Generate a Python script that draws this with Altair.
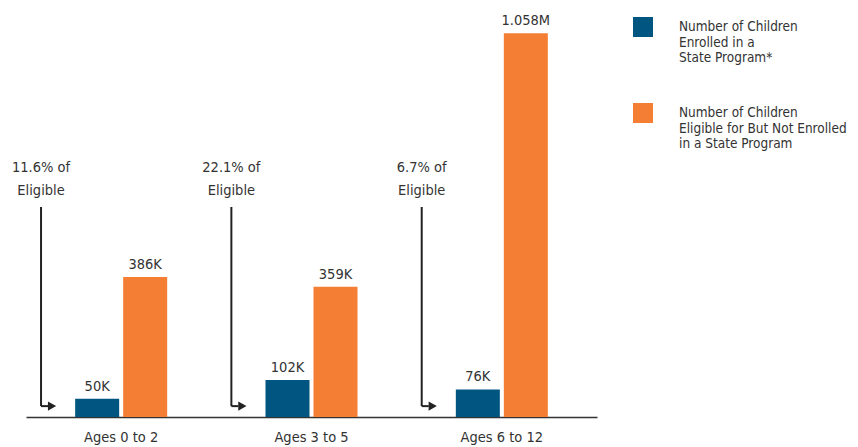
import altair as alt
import pandas as pd

ages = ["Ages 0 to 2", "Ages 3 to 5", "Ages 6 to 12"]
series = [
    "Number of Children Enrolled in a State Program*",
    "Number of Children Eligible for But Not Enrolled in a State Program",
]
legend_lines = [
    ["Number of Children", "Enrolled in a", "State Program*"],
    ["Number of Children", "Eligible for But Not Enrolled", "in a State Program"],
]
enrolled_k = [50, 102, 76]
not_enrolled_k = [386, 359, 1058]
enrolled_labels = ["50K", "102K", "76K"]
not_enrolled_labels = ["386K", "359K", "1.058M"]
share_of_eligible = ["11.6%", "22.1%", "6.7%"]
colors = ["#005581", "#F47F34"]

rows = []
for i, a in enumerate(ages):
    rows.append({"age": a, "series": series[0], "value": enrolled_k[i], "label": enrolled_labels[i]})
    rows.append({"age": a, "series": series[1], "value": not_enrolled_k[i], "label": not_enrolled_labels[i]})
df = pd.DataFrame(rows)
notes = pd.DataFrame({"age": ages, "note": [f"{p} of\nEligible" for p in share_of_eligible]})

FONT = "DejaVu Sans Condensed, sans-serif"
FS = 14.5
TXT = "#333333"
LINE = "#222222"
BP = 0.079


def make_x(**kw):
    return alt.X(
        "age:N",
        sort=ages,
        scale=alt.Scale(paddingInner=0, paddingOuter=0),
        axis=alt.Axis(
            title=None, domainColor="#333333", domainWidth=1.5, ticks=False,
            labelFontSize=FS, labelPadding=13, labelColor=TXT, labelFont=FONT,
            labelAngle=0,
        ),
        **kw,
    )


y_scale = alt.Scale(domain=[0, 1100], nice=False, zero=True)
xoff = alt.XOffset("series:N", sort=series,
                   scale=alt.Scale(paddingInner=0.035, paddingOuter=1))

label_expr = "datum.label == '{}' ? {} : {}".format(
    series[0],
    "[" + ",".join("'" + s + "'" for s in legend_lines[0]) + "]",
    "[" + ",".join("'" + s + "'" for s in legend_lines[1]) + "]",
)

color = alt.Color(
    "series:N", sort=series,
    scale=alt.Scale(domain=series, range=colors),
    legend=alt.Legend(
        title=None, orient="none", legendX=607, legendY=-1,
        symbolType="square", symbolSize=400, symbolStrokeWidth=0,
        symbolOpacity=1, labelFontSize=13.5, labelFont=FONT, labelColor=TXT,
        labelOffset=26, rowPadding=38, labelExpr=label_expr, padding=0,
        labelLimit=300,
    ),
)

bars = alt.Chart(df).mark_bar(width=44).encode(
    x=make_x(),
    xOffset=xoff,
    y=alt.Y("value:Q", scale=y_scale, axis=None),
    color=color,
)

values = alt.Chart(df).mark_text(
    baseline="bottom", dy=-5, fontSize=FS, font=FONT, color=TXT
).encode(
    x=make_x(),
    xOffset=xoff,
    y=alt.Y("value:Q", scale=y_scale, axis=None),
    text="label:N",
)

vrule = alt.Chart(notes).mark_rule(color=LINE, strokeWidth=2).encode(
    x=make_x(bandPosition=BP),
    y=alt.datum(30),
    y2=alt.datum(579),
)

hrule = alt.Chart(notes).mark_rule(color=LINE, strokeWidth=2, x2Offset=7).encode(
    x=make_x(bandPosition=BP),
    x2=alt.X2("age:N", bandPosition=BP),
    y=alt.datum(30),
)

head = alt.Chart(notes).mark_point(
    shape="triangle-right", filled=True, size=90, color=LINE, opacity=1, xOffset=11
).encode(
    x=make_x(bandPosition=BP),
    y=alt.datum(30),
)

note_text = alt.Chart(notes).mark_text(
    baseline="bottom", dy=-32, fontSize=FS, font=FONT, color=TXT,
    lineBreak="\n", lineHeight=23, align="center",
).encode(
    x=make_x(bandPosition=BP),
    y=alt.datum(579),
    text="note:N",
)

chart = alt.layer(bars, values, vrule, hrule, head, note_text).properties(
    width=571, height=399,
    autosize=alt.AutoSizeParams(type="none"),
    padding={"left": 18, "top": 10, "right": 253, "bottom": 30},
).configure_view(stroke=None)

chart.save("out.html", embed_options={"renderer": "svg", "actions": False})
